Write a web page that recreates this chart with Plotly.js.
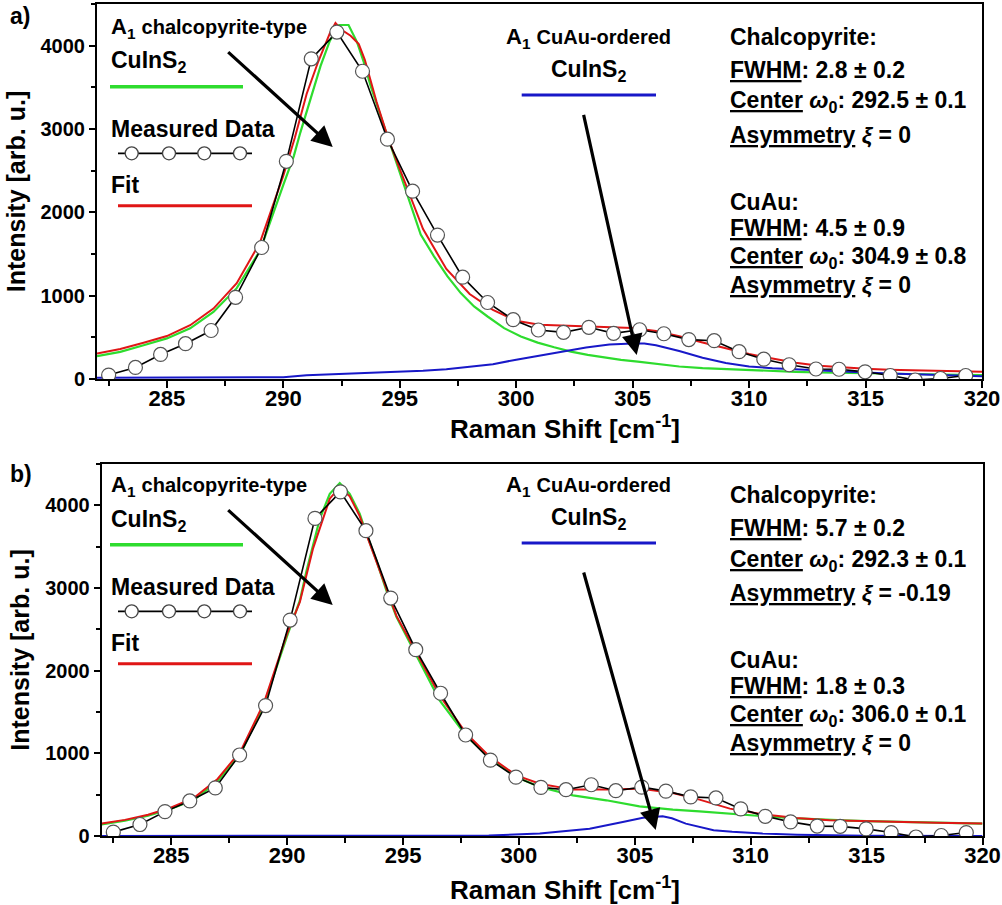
<!DOCTYPE html>
<html><head><meta charset="utf-8">
<script src="https://cdn.plot.ly/plotly-3.0.1.min.js"></script>
<style>html,body{margin:0;padding:0;background:#fff}</style>
</head><body>
<div id="chart" style="width:1002px;height:905px"></div>
<script>
// ---------- data ----------
const measuredX = [282.5, 283.65, 284.73, 285.8, 286.9, 287.95, 289.07, 290.13, 291.2, 292.3, 293.4, 294.47, 295.55, 296.62, 297.7, 298.77, 299.87, 300.95, 302.03, 303.12, 304.18, 305.3, 306.34, 307.41, 308.5, 309.57, 310.63, 311.72, 312.87, 313.86, 314.98, 316.06, 317.13, 318.22, 319.3];
const measuredY = [47, 139, 295, 424, 582, 980, 1578, 2612, 3842, 4163, 3693, 2878, 2254, 1727, 1222, 918, 712, 588, 560, 620, 548, 591, 543, 473, 460, 328, 238, 171, 120, 117, 86, 42, -12, 6, 42];

// panel a) chalcopyrite component (green)
const aGreenX = [282, 283, 284, 285, 286, 287, 288, 289, 290, 290.45, 290.73, 291.17, 291.6, 292, 292.4, 292.8, 293.17, 293.46, 293.75, 294.18, 294.61, 295, 295.9, 296.47, 297.05, 297.62, 298.19, 298.77, 299.48, 300.2, 300.92, 301.63, 302.35, 303.07, 303.79, 304.5, 305.22, 306, 307, 308, 309, 310, 311, 312, 313, 314, 315, 316, 317, 318, 319, 320];
const aGreenY = [275, 325, 405, 487, 608, 805, 1090, 1540, 2330, 2675, 2957, 3357, 3758, 4060, 4248, 4248, 4040, 3799, 3518, 3156, 2795, 2470, 1733, 1472, 1231, 1031, 870, 750, 610, 509, 437, 381, 329, 289, 256, 229, 209, 180, 150, 130, 117, 105, 96, 86, 78, 72, 66, 61, 57, 54, 51, 48];
// panel a) total fit (red)
const aRedX = [282, 283, 284, 285, 286, 287, 288, 289, 290, 290.5, 291, 291.5, 292, 292.24, 292.5, 292.89, 293.24, 293.5, 294, 294.5, 295, 296, 297, 298, 299, 300, 301, 302, 303, 304, 305, 306, 307, 308, 309, 310, 311, 312, 313, 314, 315, 316, 317, 318, 319, 320];
const aRedY = [305, 360, 435, 515, 645, 845, 1150, 1640, 2440, 2900, 3420, 3810, 4150, 4272, 4190, 4119, 4019, 3830, 3330, 2890, 2520, 1800, 1320, 1020, 830, 700, 650, 640, 635, 628, 612, 575, 512, 437, 369, 300, 245, 195, 160, 138, 122, 112, 105, 97, 92, 86];
// panel a) CuAu component (blue)
const aBlueX = [282, 284, 286, 288, 290, 291, 292, 293, 294, 295, 296, 297, 298, 299, 300, 301, 302, 303, 304, 304.5, 305, 305.5, 306, 307, 308, 309, 310, 311, 312, 313, 314, 315, 316, 317, 318, 319, 320];
const aBlueY = [15, 15, 16, 18, 22, 45, 55, 65, 75, 88, 100, 118, 145, 178, 232, 280, 330, 378, 415, 425, 427, 425, 405, 335, 255, 192, 150, 130, 115, 102, 90, 78, 66, 56, 48, 40, 34];

// panel b)
const bGreenX = [282, 283, 284, 285, 286, 287, 288, 289, 290, 290.55, 290.84, 291.12, 291.41, 291.84, 292.27, 292.7, 293.13, 293.42, 293.85, 294.28, 294.72, 295.5, 296.58, 297.73, 298.74, 299.89, 300.9, 302.33, 303.77, 305.2, 306.64, 307.79, 309, 310, 311, 312, 313, 314, 315, 316, 317, 318, 319, 320];
const bGreenY = [141, 185, 245, 330, 440, 660, 1000, 1590, 2420, 2850, 3213, 3536, 3838, 4140, 4269, 4140, 3898, 3657, 3334, 2971, 2648, 2225, 1640, 1210, 945, 713, 592, 492, 432, 359, 319, 299, 271, 250, 230, 212, 198, 190, 181, 174, 166, 161, 156, 150];
const bRedX = [282, 283, 284, 285, 286, 287, 288, 289, 290, 290.55, 291.12, 291.84, 292.27, 292.7, 293.13, 293.85, 294.72, 295.5, 296.58, 297.73, 298.74, 299.89, 300.9, 302.33, 303.77, 305.2, 306.64, 307.79, 309.1, 310.5, 311.96, 313.4, 314.8, 316.3, 318, 320];
const bRedY = [150, 195, 258, 345, 465, 690, 1030, 1610, 2450, 2830, 3480, 4080, 4220, 4110, 3870, 3320, 2660, 2260, 1700, 1240, 960, 733, 633, 561, 561, 573, 520, 440, 331, 262, 218, 190, 180, 169, 160, 152];
const bBlueX = [282, 290, 295, 298.7, 300.9, 303.05, 304.48, 305.35, 306.2, 306.6, 307.2, 307.8, 308.4, 309.2, 310.5, 312, 313.5, 315, 320];
const bBlueY = [0, 0, 2, 5, 29, 89, 169, 222, 238, 215, 150, 109, 69, 50, 29, 15, 5, 2, 0];

// text content
const panelLabels = ['a)', 'b)'];
const xTitle = 'Raman Shift [cm<sup>-1</sup>]';
const yTitle = 'Intensity [arb. u.]';
const chalFWHM = ['2.8 ± 0.2', '5.7 ± 0.2'];
const chalCenter = ['292.5 ± 0.1', '292.3 ± 0.1'];
const chalAsym = ['0', '-0.19'];
const cuauFWHM = ['4.5 ± 0.9', '1.8 ± 0.3'];
const cuauCenter = ['304.9 ± 0.8', '306.0 ± 0.1'];
const cuauAsym = ['0', '0'];

// ---------- styling ----------
const W = 1002, H = 905;
const FONT = 'Arial, "Liberation Sans", sans-serif';
const GREEN = '#2edc2e', RED = '#e01616', BLUE = '#1818c8';

function line(x, y, color, w, xa, ya, name) {
  return {x: x, y: y, type: 'scatter', mode: 'lines', name: name, xaxis: xa, yaxis: ya,
          line: {color: color, width: w}, hoverinfo: 'skip'};
}
function meas(xa, ya) {
  return {x: measuredX, y: measuredY, type: 'scatter', mode: 'lines+markers', name: 'Measured Data',
          xaxis: xa, yaxis: ya, cliponaxis: true,
          line: {color: '#000', width: 1.6},
          marker: {symbol: 'circle', size: 14, color: '#fff', line: {color: '#555', width: 1.2}}};
}
const traces = [
  line(aGreenX, aGreenY, GREEN, 2.2, 'x', 'y', 'A1 chalcopyrite'),
  line(aBlueX, aBlueY, BLUE, 2, 'x', 'y', 'A1 CuAu'),
  line(aRedX, aRedY, RED, 2, 'x', 'y', 'Fit'),
  meas('x', 'y'),
  line(bGreenX, bGreenY, GREEN, 2.2, 'x2', 'y2', 'A1 chalcopyrite'),
  line(bBlueX, bBlueY, BLUE, 2, 'x2', 'y2', 'A1 CuAu'),
  line(bRedX, bRedY, RED, 2, 'x2', 'y2', 'Fit'),
  meas('x2', 'y2')
];

function xax(domain, anchor) {
  return {domain: domain, anchor: anchor, range: [282, 320], tick0: 0, dtick: 5,
    ticks: 'outside', ticklen: 7, tickwidth: 2, tickcolor: '#000', ticklabelstandoff: -8,
    minor: {dtick: 2.5, ticks: 'outside', ticklen: 5, tickwidth: 2, tickcolor: '#000'},
    showline: true, linewidth: 2, linecolor: '#000', mirror: true,
    showgrid: false, zeroline: false, automargin: false,
    tickfont: {family: FONT, size: 22, color: '#000', weight: 'bold'}};
}
function yax(domain, anchor) {
  return {domain: domain, anchor: anchor, range: [0, 4500], tick0: 0, dtick: 1000,
    ticks: 'outside', ticklen: 6, tickwidth: 2, tickcolor: '#000',
    minor: {dtick: 500, ticks: 'outside', ticklen: 4, tickwidth: 2, tickcolor: '#000'},
    showline: true, linewidth: 2, linecolor: '#000', mirror: true,
    showgrid: false, zeroline: false, automargin: false,
    tickfont: {family: FONT, size: 20, color: '#000', weight: 'bold'},
    title: {text: yTitle, standoff: 8,
            font: {family: FONT, size: 25, color: '#000', weight: 'bold'}}};
}

// pixel -> paper helpers
const PX = p => p / W, PY = p => 1 - p / H;
function txt(t, px, py, size, anchor) {
  return {xref: 'paper', yref: 'paper', x: PX(px), y: PY(py), xanchor: anchor || 'left', yanchor: 'middle',
          text: '<b>' + t + '</b>', showarrow: false,
          font: {family: FONT, size: size, color: '#000'}};
}
function arrow(tx, ty, hx, hy) {
  return {xref: 'paper', yref: 'paper', x: PX(hx), y: PY(hy), axref: 'pixel', ayref: 'pixel',
          ax: tx - hx, ay: ty - hy, text: '', showarrow: true, arrowhead: 2, arrowsize: 1.3,
          arrowwidth: 3.2, arrowcolor: '#000', standoff: 0};
}

const annotations = [], shapes = [];
[0, 1].forEach(i => {
  const o = i === 0 ? 0 : 458;      // vertical offset of panel b
  const oc = i === 0 ? 0 : 448;     // CuAu label group offset
  annotations.push(txt(panelLabels[i], 8, 16 + o, 23));
  annotations.push(txt(xTitle, 565, i === 0 ? 427 : 888, 26, 'center'));
  annotations.push(txt('A<sub>1</sub> <span style="font-size:20px">chalcopyrite-type</span>', 109, 28 + o, 22));
  annotations.push(txt('CuInS<sub>2</sub>', 109, 62 + o, 23));
  annotations.push(txt('Measured Data', 109, 129 + o, 23));
  annotations.push(txt('Fit', 109, 185 + o, 23));
  annotations.push(txt('A<sub>1</sub> <span style="font-size:20px">CuAu-ordered</span>', 588, 38 + oc, 22, 'center'));
  annotations.push(txt('CuInS<sub>2</sub>', 588, 70 + oc, 23, 'center'));
  const rx = 728;
  annotations.push(txt('Chalcopyrite:', rx, 37 + o, 23));
  annotations.push(txt('<u>FWHM</u>: ' + chalFWHM[i], rx, 70 + o, 23));
  annotations.push(txt('<u>Center</u> <i>ω</i><sub>0</sub>: ' + chalCenter[i], rx, 102 + o, 23));
  annotations.push(txt('<u>Asymmetry</u> <i>ξ</i> = ' + chalAsym[i], rx, 135 + o, 23));
  annotations.push(txt('CuAu:', rx, 202 + o, 23));
  annotations.push(txt('<u>FWHM</u>: ' + cuauFWHM[i], rx, 228 + o, 23));
  annotations.push(txt('<u>Center</u> <i>ω</i><sub>0</sub>: ' + cuauCenter[i], rx, 257 + o, 23));
  annotations.push(txt('<u>Asymmetry</u> <i>ξ</i> = ' + cuauAsym[i], rx, 285 + o, 23));
  // arrows
  annotations.push(arrow(226.7, 50.7 + o, 332.7, 147 + o));
  if (i === 0) annotations.push(arrow(583.3, 113.3, 636.7, 355));
  else annotations.push(arrow(583.3, 571, 655.7, 830));
  // legend samples
  const L = (x0, x1, y, c, w) => shapes.push({type: 'line', xref: 'paper', yref: 'paper',
      x0: PX(x0), x1: PX(x1), y0: PY(y), y1: PY(y), line: {color: c, width: w}});
  L(110, 243, 86.7 + o, GREEN, 3.5);
  L(118, 252, 153.3 + o, '#000', 1.8);
  L(118, 252, 205.7 + o, RED, 3);
  L(521.7, 656, 95 + oc, BLUE, 3);
  [131.7, 169, 204.3, 240].forEach(cx => shapes.push({type: 'circle', xref: 'paper', yref: 'paper',
      xsizemode: 'pixel', ysizemode: 'pixel', xanchor: PX(cx), yanchor: PY(153.3 + o),
      x0: -6.5, x1: 6.5, y0: -6.5, y1: 6.5, fillcolor: '#fff', line: {color: '#444', width: 1.3}}));
});

const layout = {
  width: W, height: H, margin: {l: 0, r: 0, t: 0, b: 0},
  paper_bgcolor: '#fff', plot_bgcolor: '#fff', showlegend: false,
  xaxis: xax([97 / W, 982 / W], 'y'),
  yaxis: yax([1 - 379 / H, 1 - 4 / H], 'x'),
  xaxis2: xax([101.7 / W, 982.5 / W], 'y2'),
  yaxis2: yax([1 - 836 / H, 1 - 464 / H], 'x2'),
  annotations: annotations, shapes: shapes
};
Plotly.newPlot('chart', traces, layout, {staticPlot: true, displayModeBar: false});
</script>
</body></html>
